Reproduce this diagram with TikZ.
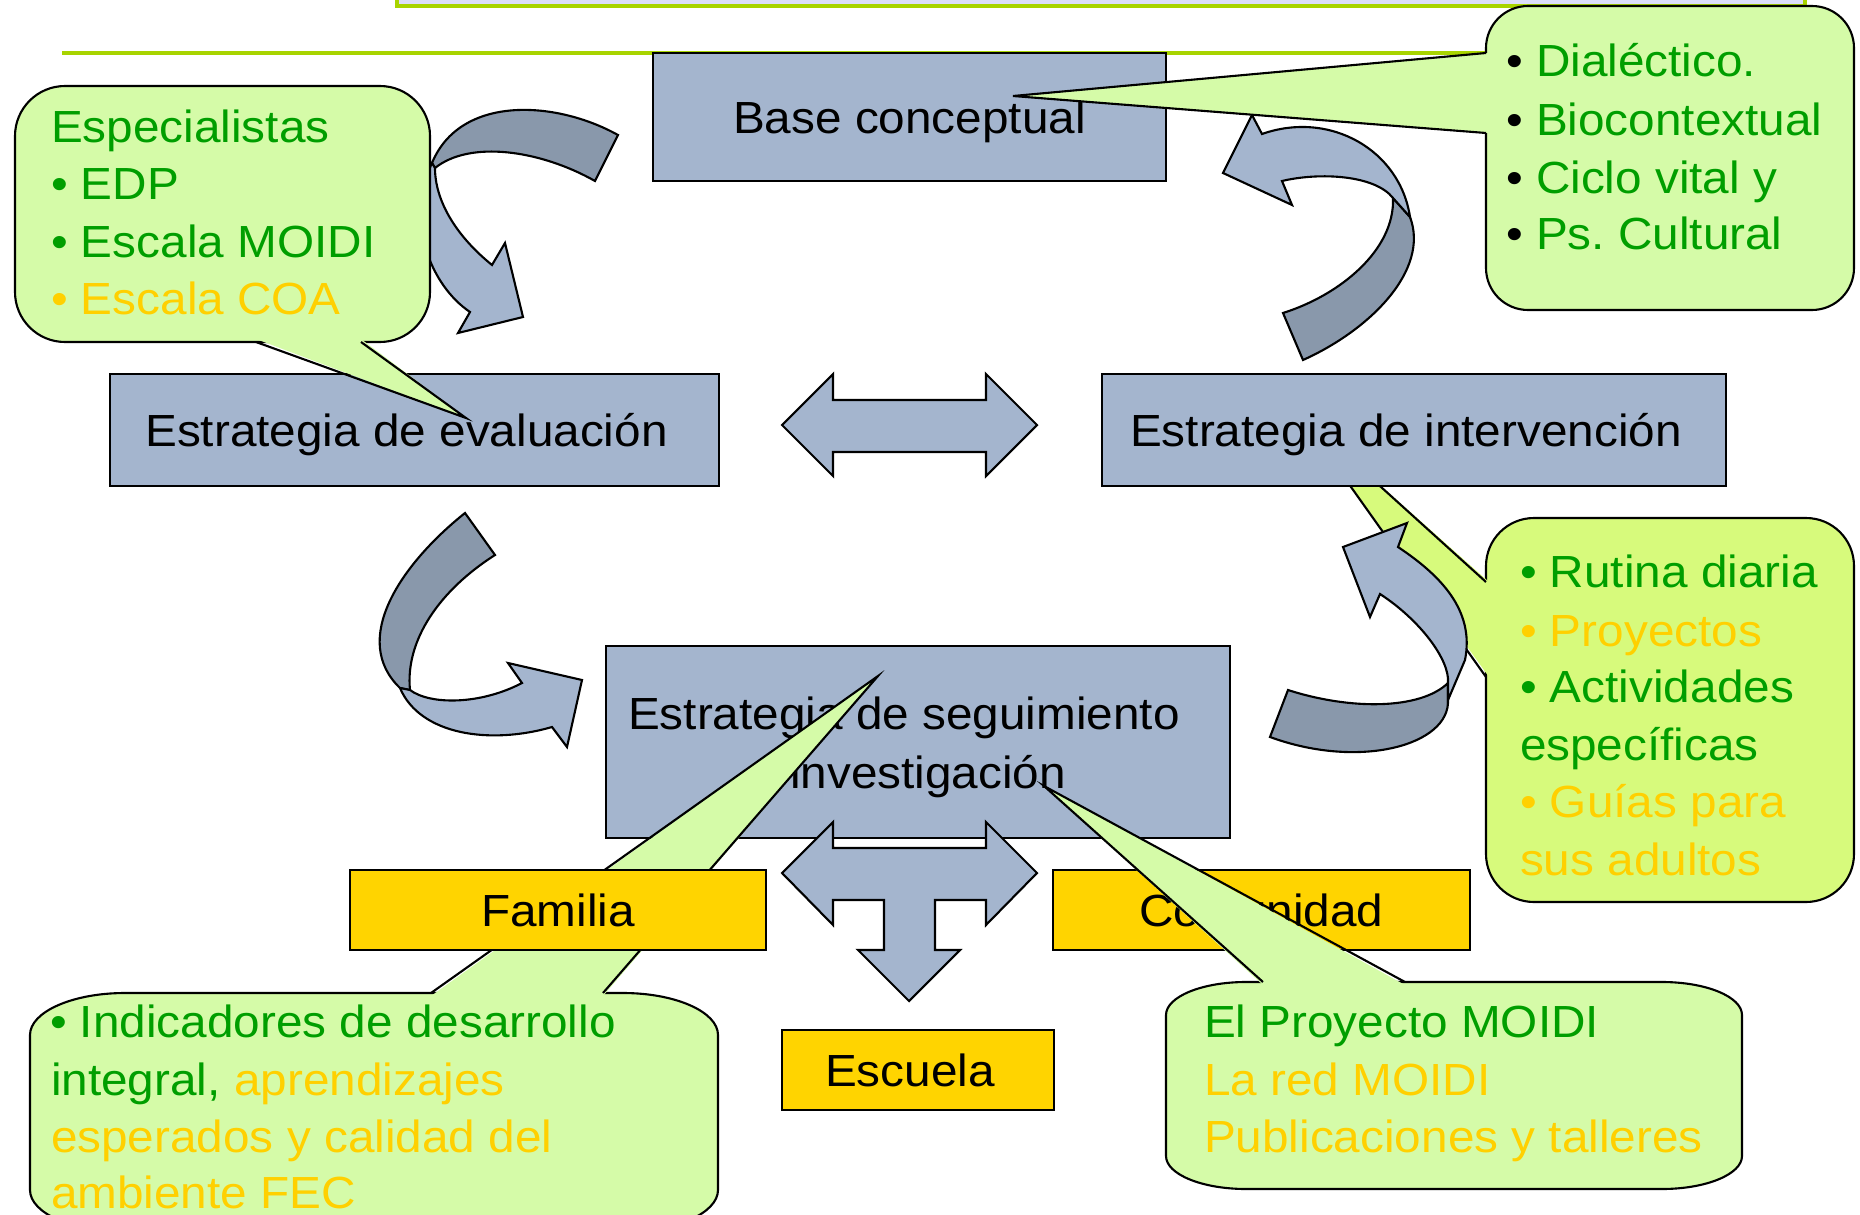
\documentclass[tikz,border=0pt]{standalone}
\usepackage{fontspec}
\setmainfont{Liberation Sans}[FakeStretch=1.06]
\definecolor{boxblue}{RGB}{164,181,206}
\definecolor{backblue}{RGB}{137,152,171}
\definecolor{bubblegreen}{RGB}{213,251,168}
\definecolor{bubblelime}{RGB}{215,250,124}
\definecolor{textgreen}{RGB}{0,158,0}
\definecolor{textyellow}{RGB}{255,208,0}
\definecolor{boxyellow}{RGB}{255,212,0}
\definecolor{linegreen}{RGB}{168,212,0}
\definecolor{topfill}{RGB}{220,222,250}
\frenchspacing

\begin{document}
\begin{tikzpicture}[x=0.01cm,y=-0.01cm,line width=0.6pt,
	every node/.style={font=\fontsize{12.8}{15}\selectfont,inner sep=0pt},
	bluebox/.style={draw=black,fill=boxblue,text height=9.2pt,text depth=0pt},
	yellowbox/.style={draw=black,fill=boxyellow,text height=9.2pt,text depth=0pt},
	boxtext/.style={text height=9.2pt,text depth=0pt},
	backside/.style={draw=black,fill=backblue},
	frontside/.style={draw=black,fill=boxblue},
	bubble/.style={draw=black,fill=bubblegreen},
	limebubble/.style={draw=black,fill=bubblelime},
	green/.style={anchor=base west,text=textgreen},
	yellow/.style={anchor=base west,text=textyellow}]
	\useasboundingbox (0,0) rectangle (1860,1215);
	\clip (0,0) rectangle (1860,1215);
	
	\draw[draw=linegreen,fill=topfill,line width=1pt] (397,-30) rectangle (1805,6);
	\draw[linegreen,line width=1.4pt] (62,53) -- (1490,53);
	
	% arrow evaluacion
	\draw[backside] (618,135) .. controls (555,100) and (460,95) .. (432,163) -- (435,168) .. controls (470,140) and (540,150) .. (595,181) -- cycle;
	\draw[frontside] (435,168) .. controls (435,200) and (455,235) .. (492,265) -- (505,243) -- (523,317) -- (458,333) -- (470,312) .. controls (430,285) and (405,220) .. (432,163) -- cycle;
	
	% arrow base conceptual
	\draw[backside] (1393,198) .. controls (1395,250) and (1340,295) .. (1283,313) -- (1303,360) .. controls (1370,330) and (1430,270) .. (1410,217) -- cycle;
	\draw[frontside] (1410,217) .. controls (1400,150) and (1330,110) .. (1262,134) -- (1252,115) -- (1223,173) -- (1292,205) -- (1282,181) .. controls (1320,172) and (1375,175) .. (1393,198) -- cycle;
	
	\node[bluebox,minimum width=5.13cm,minimum height=1.28cm] (base) at (909.5,117) {Base conceptual};
	
	% dialectico
	\draw[bubble,rounded corners=0.42cm] (1486,6) rectangle (1854,310);
	\fill[bubblegreen] (1489,53) -- (1013,96) -- (1489,133) -- cycle;
	\draw (1486,53) -- (1013,96) -- (1486,133);
	\node[green] (dia1) at (1505,77) {{\color{black}•} Dialéctico.};
	\node[green] (dia2) at (1505,135) {{\color{black}•} Biocontextual};
	\node[green] (dia3) at (1505,193) {{\color{black}•} Ciclo vital y};
	\node[green] (dia4) at (1505,249) {{\color{black}•} Ps. Cultural};
	
	\node[bluebox,minimum width=6.09cm,minimum height=1.12cm] (eval) at (414.5,430) {};
	\node[boxtext] (evaltxt) at ([xshift=-0.08cm]eval.center) {Estrategia de evaluación};
	
	% especialistas
	\draw[bubble,rounded corners=0.5cm] (15,86) rectangle (430,342);
	\fill[bubblegreen] (256,339) -- (466,418) -- (361,339) -- cycle;
	\draw (256,342) -- (466,418) -- (361,342);
	\node[green] (esp1) at (50,142) {Especialistas};
	\node[green] (esp2) at (50,199) {• EDP};
	\node[green] (esp3) at (50,257) {• Escala MOIDI};
	\node[yellow] (esp4) at (50,314) {• Escala COA};
	
	% rutina
	\draw[limebubble,rounded corners=0.48cm] (1486,518) rectangle (1854,902);
	\fill[bubblelime] (1489,582) -- (1297,411) -- (1489,677) -- cycle;
	\draw (1486,582) -- (1297,411) -- (1486,677);
	\node[green] (rut1) at (1519,587) {• Rutina diaria};
	\node[yellow] (rut2) at (1519,646) {• Proyectos};
	\node[green] (rut3) at (1519,702) {• Actividades};
	\node[green] (rut4) at (1519,760) {específicas};
	\node[yellow] (rut5) at (1519,817) {• Guías para};
	\node[yellow] (rut6) at (1519,875) {sus adultos};
	
	\node[bluebox,minimum width=6.24cm,minimum height=1.12cm] (interv) at (1414,430) {};
	\node[boxtext] (intervtxt) at ([xshift=-0.08cm]interv.center) {Estrategia de intervención};
	
	% arrow intervencion
	\draw[backside] (1448,683) .. controls (1420,710) and (1350,710) .. (1288,690) -- (1270,737) .. controls (1360,770) and (1450,745) .. (1448,700) -- cycle;
	\draw[frontside] (1448,700) -- (1465,660) .. controls (1475,610) and (1440,575) .. (1398,547) -- (1407,523) -- (1343,547) -- (1370,617) -- (1380,594) .. controls (1420,620) and (1450,660) .. (1448,683) -- cycle;
	
	\draw[frontside] (782,425) -- (833,374) -- (833,400) -- (986,400) -- (986,374) -- (1037,425) -- (986,476) -- (986,452) -- (833,452) -- (833,476) -- cycle;
	
	% arrow seguimiento
	\draw[backside] (465,513) .. controls (400,565) and (350,640) .. (400,688) -- (410,690) .. controls (405,640) and (440,590) .. (495,555) -- cycle;
	\draw[frontside] (400,688) .. controls (420,735) and (490,745) .. (552,727) -- (567,747) -- (582,680) -- (508,663) -- (522,683) .. controls (480,705) and (430,705) .. (410,690) -- cycle;
	
	\node[bluebox,minimum width=6.24cm,minimum height=1.92cm] (segui) at (918,742) {};
	\node[anchor=base] (segui1) at (904,729) {Estrategia de seguimiento};
	\node[anchor=base east] (segui2) at (1067,788) {investigación};
	\node[yellowbox,minimum width=4.17cm,minimum height=0.8cm] (comu) at (1261.5,910) {Comunidad};
	
	\draw[frontside] (782,873) -- (833,822) -- (833,848) -- (986,848) -- (986,822) -- (1037,873) -- (986,925) -- (986,900) -- (935,900) -- (935,950) -- (960,950) -- (909,1001) -- (858,950) -- (884,950) -- (884,900) -- (833,900) -- (833,925) -- cycle;
	
	% indicadores
	\draw[bubble] (125,993) -- (623,993) .. controls (675.4,993) and (718,1011.8) .. (718,1035) -- (718,1190) .. controls (718,1213.2) and (675.4,1232) .. (623,1232) -- (125,1232) .. controls (72.6,1232) and (30,1213.2) .. (30,1190) -- (30,1035) .. controls (30,1011.8) and (72.6,993) .. cycle;
	\fill[bubblegreen] (431,996) -- (878,676) -- (603,996) -- cycle;
	\draw (431,993) -- (878,676) -- (603,993);
	\node[green] (ind1) at (49,1037) {• Indicadores de desarrollo};
	\node[green] (ind2) at (50,1095) {integral, \textcolor{textyellow}{aprendizajes}};
	\node[yellow] (ind3) at (50,1152) {esperados y calidad del};
	\node[yellow] (ind4) at (50,1208) {ambiente FEC};
	
	\node[yellowbox,minimum width=4.16cm,minimum height=0.8cm] (fam) at (558,910) {Familia};
	\node[yellowbox,minimum width=2.72cm,minimum height=0.8cm] (escu) at (918,1070) {};
	\node[boxtext] (escutxt) at ([xshift=-0.08cm]escu.center) {Escuela};
	
	% moidi
	\draw[bubble] (1246,982) -- (1662,982) .. controls (1706.2,982) and (1742,996.8) .. (1742,1015) -- (1742,1156) .. controls (1742,1174.2) and (1706.2,1189) .. (1662,1189) -- (1246,1189) .. controls (1201.8,1189) and (1166,1174.2) .. (1166,1156) -- (1166,1015) .. controls (1166,996.8) and (1201.8,982) .. cycle;
	\fill[bubblegreen] (1263,985) -- (1044,786) -- (1405,985) -- cycle;
	\draw (1263,982) -- (1044,786) -- (1405,982);
	\node[green] (moi1) at (1203,1037) {El Proyecto MOIDI};
	\node[yellow] (moi2) at (1203,1095) {La red MOIDI};
	\node[yellow] (moi3) at (1203,1152) {Publicaciones y talleres};
\end{tikzpicture}
\end{document}
